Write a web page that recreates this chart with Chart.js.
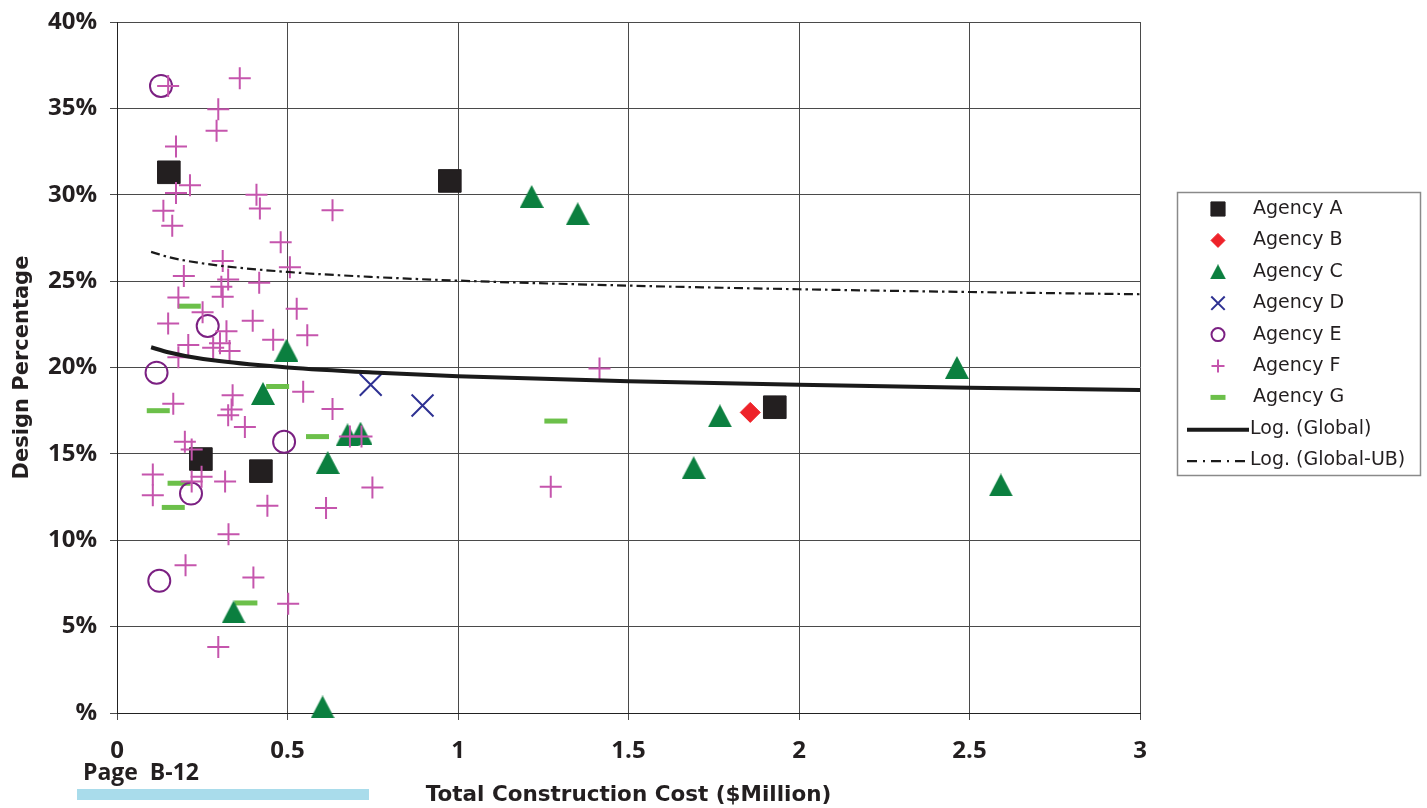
<!DOCTYPE html>
<html>
<head>
<meta charset="utf-8">
<script src="https://cdn.jsdelivr.net/npm/chart.js@4.4.1/dist/chart.umd.min.js"></script>
<style>
  body { margin: 0; background: #fff; }
  #wrap { position: relative; width: 1427px; height: 808px; }
  #page { position: absolute; left: 83px; top: 760px; font: bold 23px/23px 'Open Sans', sans-serif; color: #231f20; white-space: pre; }
  #bar { position: absolute; left: 77px; top: 789px; width: 292px; height: 11px; background: #a9dceb; }
</style>
</head>
<body>
<div id="wrap">
  <canvas id="chart" width="1427" height="808"></canvas>
  <div id="bar"></div>
  <div id="page">Page  B-12</div>
</div>
<script>
// values: [cost in $M, design %]
const agencyA = [[0.152, 31.3], [0.976, 30.8], [0.246, 14.7], [0.422, 14.0], [1.929, 17.7]];
const agencyB = [[1.857, 17.4]];
const agencyC = [[1.216, 29.9], [1.351, 28.9], [2.463, 20.0], [1.768, 17.2], [1.691, 14.2], [2.592, 13.2],
  [0.497, 21.0], [0.428, 18.5], [0.676, 16.1], [0.714, 16.2], [0.618, 14.5], [0.342, 5.85], [0.603, 0.35]];
const agencyD = [[0.744, 19.0], [0.896, 17.8]];
const agencyE = [[0.129, 36.3], [0.266, 22.4], [0.116, 19.7], [0.490, 15.7], [0.217, 12.7], [0.124, 7.65]];
const agencyF = [[0.150, 36.3], [0.360, 36.75], [0.297, 34.95], [0.292, 33.7], [0.173, 32.8], [0.214, 30.55],
  [0.173, 30.1], [0.136, 29.07], [0.162, 28.2], [0.409, 30.0], [0.419, 29.2], [0.632, 29.1], [0.480, 27.25],
  [0.310, 26.17], [0.507, 25.8], [0.196, 25.3], [0.326, 25.1], [0.306, 24.67], [0.417, 24.9], [0.310, 24.1],
  [0.180, 24.05], [0.251, 23.2], [0.150, 22.55], [0.321, 22.1], [0.398, 22.7], [0.527, 23.4], [0.558, 21.87],
  [0.458, 21.6], [0.209, 21.3], [0.180, 20.6], [0.282, 21.15], [0.302, 21.4], [0.330, 20.96], [0.546, 18.6],
  [0.339, 18.4], [0.165, 17.9], [0.632, 17.6], [0.326, 17.24], [0.336, 17.57], [0.375, 16.56], [0.199, 15.7],
  [0.219, 15.25], [0.105, 13.8], [0.105, 12.6], [0.219, 13.4], [0.248, 13.67], [0.317, 13.4], [0.441, 12.0],
  [0.327, 10.35], [0.201, 8.55], [0.400, 7.84], [0.502, 6.33], [0.297, 3.82], [0.613, 11.87], [0.749, 13.05],
  [0.683, 16.0], [0.717, 16.0], [1.415, 19.94], [1.272, 13.09]];
const agencyG = [[0.212, 23.55], [0.121, 17.5], [0.471, 18.9], [0.588, 16.0], [0.182, 13.3], [0.165, 11.9],
  [0.378, 6.37], [1.287, 16.9]];

// trendlines, read at these costs
const trendX = [0.1, 0.15, 0.2, 0.3, 0.5, 0.75, 1, 1.5, 2, 2.5, 3];
const logGlobal = [21.17, 20.88, 20.67, 20.37, 20.0, 19.71, 19.5, 19.21, 19.0, 18.83, 18.7];
const logGlobalUB = [26.69, 26.4, 26.19, 25.9, 25.53, 25.24, 25.03, 24.74, 24.53, 24.37, 24.24];

const xTicks = [0, 0.5, 1, 1.5, 2, 2.5, 3];
const yTicks = [0, 5, 10, 15, 20, 25, 30, 35, 40];

const toPts = arr => arr.map(p => ({ x: p[0], y: p[1] }));
const toLine = (xs, ys) => xs.map((x, i) => ({ x: x, y: ys[i] }));

function triangle(w, h, color) {
  const c = document.createElement('canvas');
  c.width = w; c.height = h;
  const g = c.getContext('2d');
  g.fillStyle = color;
  g.beginPath();
  g.moveTo(w / 2, 0);
  g.lineTo(w, h);
  g.lineTo(0, h);
  g.closePath();
  g.fill();
  return c;
}

const green = '#0b7f3f';
const triBig = triangle(24, 23, green);
const triSmall = triangle(16, 15, green);

function scatterSet(label, data, style, radius, fill, stroke, bw, legendStyle, legendR, order) {
  return {
    type: 'scatter', label: label, data: toPts(data), clip: false,
    pointStyle: style, pointRadius: radius, pointHoverRadius: radius,
    pointBackgroundColor: fill, pointBorderColor: stroke, pointBorderWidth: bw,
    legendStyle: legendStyle, legendR: legendR, order: order
  };
}

const datasets = [
  scatterSet('Agency A', agencyA, 'rect', 16, '#231f20', '#231f20', 1, 'rect', 10, 3),
  scatterSet('Agency B', agencyB, 'rectRot', 10, '#ee2229', '#ee2229', 1, 'rectRot', 7, 3),
  scatterSet('Agency C', agencyC, triBig, 12, green, green, 0, triSmall, 8, 3),
  scatterSet('Agency D', agencyD, 'crossRot', 15.5, '#2e3192', '#2e3192', 2, 'crossRot', 9.5, 3),
  scatterSet('Agency E', agencyE, 'circle', 11, 'rgba(0,0,0,0)', '#7b2082', 2, 'circle', 6.5, 3),
  scatterSet('Agency F', agencyF, 'cross', 11, '#c555ad', '#c555ad', 2, 'cross', 6.5, 2),
  scatterSet('Agency G', agencyG, 'line', 11.5, '#6cc04a', '#6cc04a', 5, 'line', 7.5, 3),
  {
    type: 'line', label: 'Log. (Global)', data: toLine(trendX, logGlobal),
    borderColor: '#1a1a1a', borderWidth: 4, pointRadius: 0, fill: false,
    cubicInterpolationMode: 'monotone', order: 1, legendDash: []
  },
  {
    type: 'line', label: 'Log. (Global-UB)', data: toLine(trendX, logGlobalUB),
    borderColor: '#1a1a1a', borderWidth: 2.2, borderDash: [9, 4, 2.5, 4], pointRadius: 0, fill: false,
    cubicInterpolationMode: 'monotone', order: 1, legendDash: [10, 6, 2, 6]
  }
];

// legend box drawn at the right, like the original
const boxLegend = {
  id: 'boxLegend',
  afterDraw(chart) {
    const ctx = chart.ctx;
    ctx.save();
    ctx.strokeStyle = '#8a8a8a';
    ctx.lineWidth = 1.5;
    ctx.strokeRect(1177.5, 192.5, 243, 283);
    ctx.font = '19px "DejaVu Sans", sans-serif';
    ctx.textBaseline = 'middle';
    chart.data.datasets.forEach((ds, i) => {
      const y = 209 + i * 31.4;
      ctx.fillStyle = '#231f20';
      ctx.fillText(ds.label, ds.type === 'line' ? 1250 : 1253, y);
      if (ds.type === 'line') {
        ctx.strokeStyle = ds.borderColor;
        ctx.lineWidth = ds.borderWidth;
        ctx.setLineDash(ds.legendDash);
        ctx.beginPath();
        ctx.moveTo(1187, y + 1);
        ctx.lineTo(1249, y + 1);
        ctx.stroke();
        ctx.setLineDash([]);
      } else {
        ctx.fillStyle = ds.pointBackgroundColor;
        ctx.strokeStyle = ds.pointBorderColor;
        ctx.lineWidth = ds.pointBorderWidth;
        Chart.helpers.drawPoint(ctx, {
          pointStyle: ds.legendStyle, rotation: 0, radius: ds.legendR, borderWidth: ds.pointBorderWidth
        }, 1218, y);
      }
    });
    ctx.restore();
  }
};

new Chart(document.getElementById('chart'), {
  type: 'scatter',
  data: { datasets: datasets },
  options: {
    responsive: false,
    animation: false,
    layout: { padding: { top: 22, right: 287, left: 0, bottom: 0 } },
    plugins: { legend: { display: false }, tooltip: { enabled: false } },
    scales: {
      x: {
        type: 'linear', min: 0, max: 3,
        afterBuildTicks: s => { s.ticks = xTicks.map(v => ({ value: v })); },
        afterFit: s => { s.height = 95; s.paddingLeft = 0; s.paddingRight = 0; },
        grid: { color: '#4a4a4a', lineWidth: 1, tickLength: 7 },
        border: { color: '#222', width: 1 },
        ticks: {
          color: '#231f20', padding: 17, font: { family: 'Open Sans', size: 24, weight: 'bold' },
          callback: v => String(v)
        },
        title: {
          display: true, text: 'Total Construction Cost ($Million)', color: '#231f20',
          padding: { top: 0, bottom: 0 }, font: { family: 'DejaVu Sans', size: 21.5, weight: 'bold' }
        }
      },
      y: {
        type: 'linear', min: 0, max: 40,
        afterBuildTicks: s => { s.ticks = yTicks.map(v => ({ value: v })); },
        afterFit: s => { s.width = 117; s.paddingTop = 0; s.paddingBottom = 0; },
        grid: { color: '#4a4a4a', lineWidth: 1, tickLength: 7 },
        border: { color: '#222', width: 1 },
        ticks: {
          color: '#231f20', padding: 13, font: { family: 'Open Sans', size: 24, weight: 'bold' },
          callback: v => v === 0 ? '%' : v + '%'
        },
        title: {
          display: true, text: 'Design Percentage', color: '#231f20',
          padding: { top: 10, bottom: 0 }, font: { family: 'DejaVu Sans', size: 21, weight: 'bold' }
        }
      }
    }
  },
  plugins: [boxLegend]
});
</script>
</body>
</html>
